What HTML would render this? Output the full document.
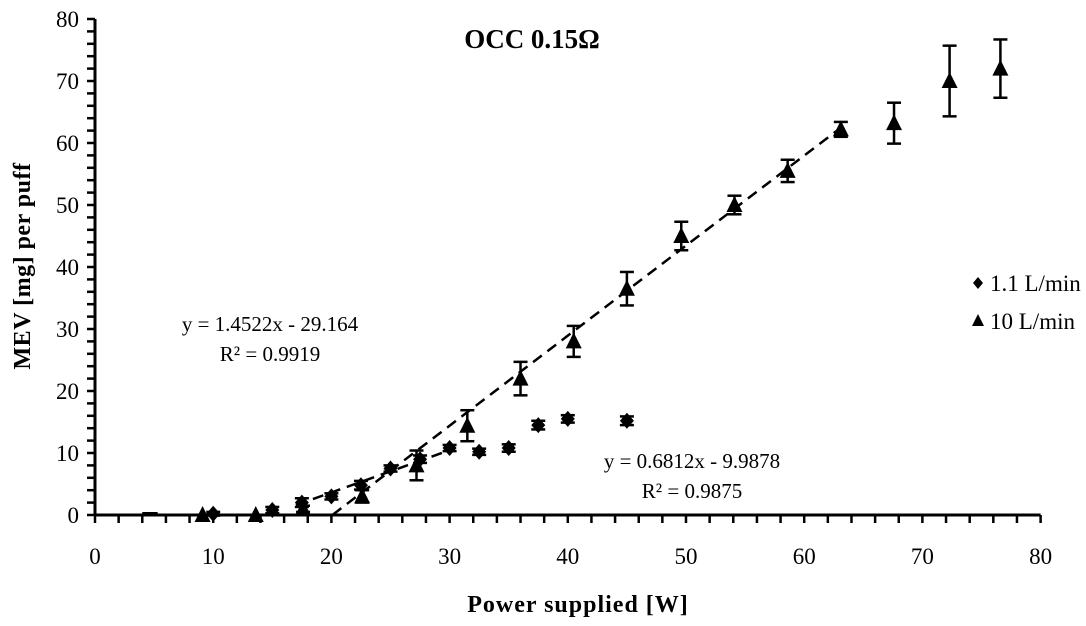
<!DOCTYPE html>
<html><head><meta charset="utf-8"><style>
html,body{margin:0;padding:0;background:#fff;}
svg{display:block;font-family:"Liberation Serif",serif;}
</style></head><body>
<svg id="chart" width="1086" height="626" viewBox="0 0 1086 626">
<text x="532" y="48" text-anchor="middle" font-size="27" font-weight="bold">OCC 0.15Ω</text>
<text x="578" y="612" text-anchor="middle" font-size="24" font-weight="bold" letter-spacing="1">Power supplied  [W]</text>
<text transform="translate(30,266) rotate(-90)" text-anchor="middle" font-size="24" font-weight="bold" letter-spacing="0.5">MEV [mg] per puff</text>
<g id="axes"></g>
<g id="lines"></g>
<g id="marks"></g>
<text x="270" y="331" text-anchor="middle" font-size="21">y = 1.4522x - 29.164</text>
<text x="270" y="361" text-anchor="middle" font-size="21">R² = 0.9919</text>
<text x="692" y="468" text-anchor="middle" font-size="21">y = 0.6812x - 9.9878</text>
<text x="692" y="498" text-anchor="middle" font-size="21">R² = 0.9875</text>
<g>
<path d="M978 277 L983 283 L978 289 L973 283 Z" fill="#000"/>
<text x="990" y="291" font-size="23">1.1 L/min</text>
<path d="M978 314 L984 326 L972 326 Z" fill="#000"/>
<text x="990" y="329" font-size="23">10 L/min</text>
</g>
</svg>
<script>
const xTicks=[0,10,20,30,40,50,60,70,80];
const yTicks=[0,10,20,30,40,50,60,70,80];
const lowX=[10,15,17.5,20,22.5,25,27.5,30,32.5,35,37.5,40,45];
const lowY=[0.2,0.8,2,3,4.8,7.5,9,10.8,10.2,10.8,14.5,15.5,15.2];
const lowErr=[0.3,0.5,0.7,0.5,0.7,0.5,0.6,0.5,0.5,0.6,0.7,0.6,0.7];
const highX=[9.1,13.6,17.6,22.6,27.2,31.5,36,40.5,45,49.6,54.1,58.6,63.1,67.6,72.3,76.6];
const highY=[0,0,1,3,8,14.4,22,28,36.5,45,50,55.5,62.2,63.2,70,72];
const highErr=[0,0,0.5,1,2.4,2.5,2.7,2.5,2.7,2.3,1.5,1.8,1.2,3.3,5.7,4.7];
const trendHigh=[1.4522,-29.164,20.1,63.1];
const trendLow=[0.6812,-9.9878,17,30];

const NS="http://www.w3.org/2000/svg";
const X=v=>95+v*11.82, Y=v=>515-v*6.2;
function mk(tag,attrs,parent){const e=document.createElementNS(NS,tag);for(const k in attrs)e.setAttribute(k,attrs[k]);parent.appendChild(e);return e;}
const axes=document.getElementById('axes'),lines=document.getElementById('lines'),marks=document.getElementById('marks');
let a=mk('line',{x1:X(0),y1:Y(0),x2:X(80),y2:Y(0),stroke:'#000','stroke-width':3},axes);


a=mk('line',{x1:X(0),y1:Y(0),x2:X(0),y2:Y(80),stroke:'#000','stroke-width':3},axes);


for(let v=0;v<=80;v+=2){
 const t=mk('line',{x1:X(v),y1:Y(0),x2:X(v),y2:Y(0)+8,stroke:'#000','stroke-width':2.5},axes);
 
 
 const u=mk('line',{x1:X(0)-8,y1:Y(v),x2:X(0),y2:Y(v),stroke:'#000','stroke-width':2.5},axes);
 
 
}
xTicks.forEach(v=>{const t=mk('text',{x:X(v),y:564,'text-anchor':'middle','font-size':23},axes);t.textContent=v;
 
 });
yTicks.forEach(v=>{const t=mk('text',{x:79,y:Y(v)+8,'text-anchor':'end','font-size':23},axes);t.textContent=v;
 
 });
function trend(p,name){const l=mk('line',{x1:X(p[2]),y1:Y(p[0]*p[2]+p[1]),x2:X(p[3]),y2:Y(p[0]*p[3]+p[1]),stroke:'#000','stroke-width':2.5,'stroke-dasharray':'11,7'},lines);
 
 }
trend(trendHigh,'trendline-10');
trend(trendLow,'trendline-1-1');
const dash=mk('line',{x1:X(4),y1:Y(0)-1.5,x2:X(5.3),y2:Y(0)-1.5,stroke:'#000','stroke-width':3},marks);


function err(x,y,e){if(e<=0)return;const g=mk('g',{stroke:'#000','stroke-width':2.5},marks);
 
 
 mk('line',{x1:X(x),y1:Y(y-e),x2:X(x),y2:Y(y+e)},g);
 mk('line',{x1:X(x)-7,y1:Y(y-e),x2:X(x)+7,y2:Y(y-e)},g);
 mk('line',{x1:X(x)-7,y1:Y(y+e),x2:X(x)+7,y2:Y(y+e)},g);}
lowX.forEach((x,i)=>{err(x,lowY[i],lowErr[i]);const cx=X(x),cy=Y(lowY[i]);
 const d=mk('path',{d:`M${cx} ${cy-8}L${cx+7} ${cy}L${cx} ${cy+8}L${cx-7} ${cy}Z`,fill:'#000'},marks);
 
 });
highX.forEach((x,i)=>{err(x,highY[i],highErr[i]);const cx=X(x),cy=Y(highY[i]);
 const d=mk('path',{d:`M${cx} ${cy-9}L${cx+8} ${cy+7}L${cx-8} ${cy+7}Z`,fill:'#000'},marks);
 
 });
</script>
</body></html>
